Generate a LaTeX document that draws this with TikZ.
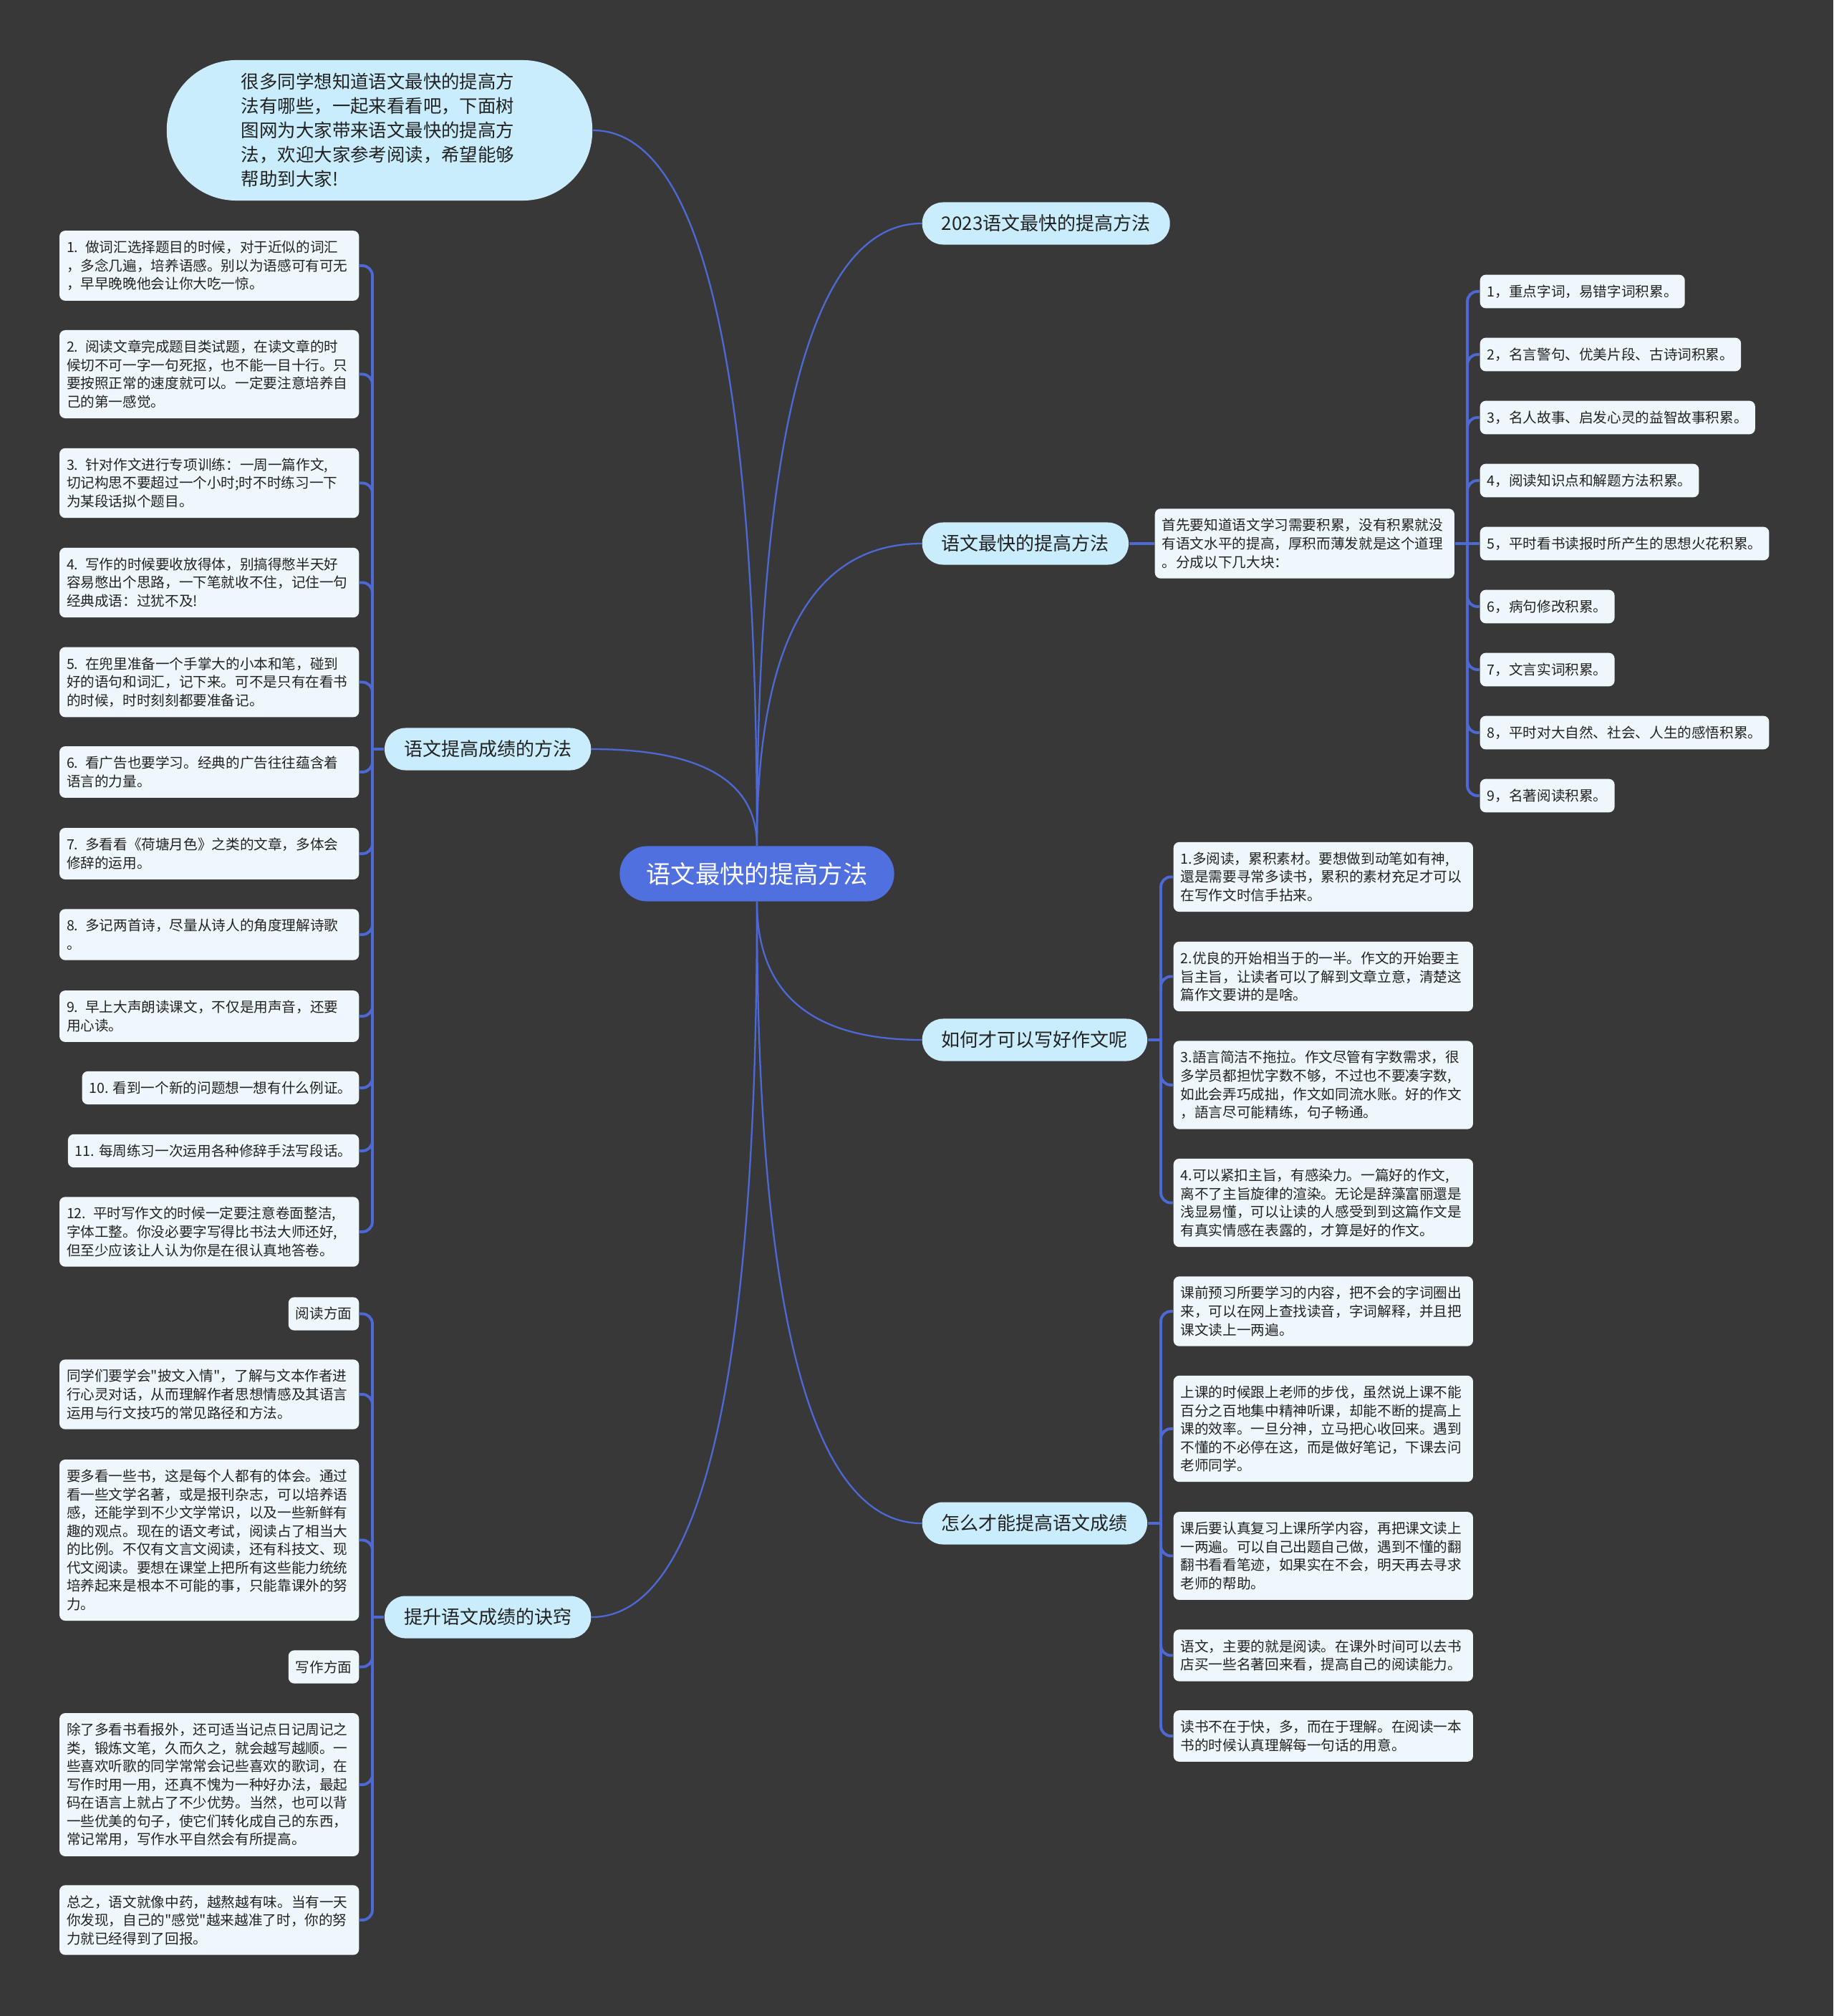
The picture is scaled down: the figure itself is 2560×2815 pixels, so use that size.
\documentclass[tikz,border=0pt]{standalone}
\usepackage{fontspec}
\setmainfont{Noto Sans CJK SC}[Ligatures=TeXOff]
\usepackage{xcolor}
\definecolor{bgdark}{HTML}{393839}
\definecolor{hubblue}{HTML}{5070E0}
\definecolor{pillblue}{HTML}{C9EDFC}
\definecolor{leafbg}{HTML}{EEF8FC}
\definecolor{linkblue}{HTML}{4D69D6}
\definecolor{ink}{HTML}{222222}
\usepackage{tikz}
\usetikzlibrary{calc}
\newcommand\leaffont{\fontsize{5.58}{7.26}\selectfont}
\tikzset{
  hub/.style    ={fill=hubblue,text=white,rounded corners=0.38cm,
                  font=\fontsize{9.76}{11}\selectfont,
                  minimum width=3.83cm,minimum height=0.77cm},
  pill/.style   ={fill=pillblue,text=ink,rounded corners=0.29cm,
                  font=\fontsize{7.4}{9}\selectfont,
                  minimum height=0.59cm,inner xsep=0.27cm},
  bubble/.style ={fill=pillblue,text=ink,rounded corners=0.97cm,
                  font=\fontsize{7.23}{9.67}\selectfont,align=left,
                  text width=3.86cm,minimum width=5.94cm,minimum height=1.96cm},
  leaf/.style   ={fill=leafbg,text=ink,rounded corners=0.08cm,
                  font=\leaffont,align=left,inner xsep=0.1cm,inner ysep=0.14cm},
  para/.style   ={leaf,text width=3.98cm},
  trunk/.style  ={draw=linkblue,line width=0.65pt,
                  to path={.. controls ($(\tikztostart)!0.667!(\tikztostart|-\tikztotarget)$)
                  and ($(\tikztotarget)!0.667!(\tikztostart|-\tikztotarget)$) .. (\tikztotarget)}},
  brace/.style  ={draw=linkblue,line width=1.1pt,rounded corners=0.14cm},
}

\begin{document}
\begin{tikzpicture}[x=0.01cm,y=-0.01cm]
% background
\fill[bgdark] (0,0) rectangle (2560,2815);
% centre and main branches
\node[hub] (hub) at (1057,1220) {语文最快的提高方法};
\node[bubble] (intro) at (530,182)
  {很多同学想知道语文最快的提高方\\法有哪些，一起来看看吧，下面树\\图网为大家带来语文最快的提高方\\法，欢迎大家参考阅读，希望能够\\帮助到大家!};
\node[pill,anchor=west] (bdate)   at (1287,312)  {2023语文最快的提高方法};
\node[pill,anchor=west] (bfast)   at (1287,759)  {语文最快的提高方法};
\node[pill,anchor=west] (bessay)  at (1287,1452) {如何才可以写好作文呢};
\node[pill,anchor=west] (bscore)  at (1287,2127) {怎么才能提高语文成绩};
\node[pill,anchor=east] (bmethod) at (826,1046)  {语文提高成绩的方法};
\node[pill,anchor=east] (btrick)  at (826,2258)  {提升语文成绩的诀窍};
\draw[trunk] (hub.north) to (intro.east);
\draw[trunk] (hub.north) to (bdate.west);
\draw[trunk] (hub.north) to (bfast.west);
\draw[trunk] (hub.north) to (bmethod.east);
\draw[trunk] (hub.south) to (bessay.west);
\draw[trunk] (hub.south) to (bscore.west);
\draw[trunk] (hub.south) to (btrick.east);

% accumulation list
\node[para,anchor=west] (f0) at (1612,759)
  {首先要知道语文学习需要积累，没有积累就没\\有语文水平的提高，厚积而薄发就是这个道理\\。分成以下几大块：};
\foreach \i/\txt in {1/{1，重点字词，易错字词积累。},
                     2/{2，名言警句、优美片段、古诗词积累。},
                     3/{3，名人故事、启发心灵的益智故事积累。},
                     4/{4，阅读知识点和解题方法积累。},
                     5/{5，平时看书读报时所产生的思想火花积累。},
                     6/{6，病句修改积累。},
                     7/{7，文言实词积累。},
                     8/{8，平时对大自然、社会、人生的感悟积累。},
                     9/{9，名著阅读积累。}}
  {\node[leaf,anchor=west] (f\i) at (2066,{407+88*(\i-1)}) {\txt};}
\coordinate (jf) at (2049,759);
\draw[brace] (bfast.east) -- (f0.west);
\draw[brace] (f0.east) -- (jf) -- (f5.west);
\foreach \i in {1,2,3,4,6,7,8,9}
  {\draw[brace] (jf) |- (f\i.west);}

% essay tips
\node[para,anchor=west] (e1) at (1638,1224.5)
  {1.多阅读，累积素材。要想做到动笔如有神,\\還是需要寻常多读书，累积的素材充足才可以\\在写作文时信手拈来。};
\node[para,anchor=west] (e2) at (1638,1363.5)
  {2.优良的开始相当于的一半。作文的开始要主\\旨主旨，让读者可以了解到文章立意，清楚这\\篇作文要讲的是啥。};
\node[para,anchor=west] (e3) at (1638,1515)
  {3.語言简洁不拖拉。作文尽管有字数需求，很\\多学员都担忧字数不够，不过也不要凑字数,\\如此会弄巧成拙，作文如同流水账。好的作文\\，語言尽可能精练，句子畅通。};
\node[para,anchor=west] (e4) at (1638,1679.5)
  {4.可以紧扣主旨，有感染力。一篇好的作文,\\离不了主旨旋律的渲染。无论是辞藻富丽還是\\浅显易懂，可以让读的人感受到到这篇作文是\\有真实情感在表露的，才算是好的作文。};
\coordinate (je) at (1621,1452);
\draw[brace] (bessay.east) -- (je);
\foreach \i in {1,...,4}
  {\draw[brace] (je) |- (e\i.west);}

% score tips
\node[para,anchor=west] (s1) at (1638,1831)
  {课前预习所要学习的内容，把不会的字词圈出\\来，可以在网上查找读音，字词解释，并且把\\课文读上一两遍。};
\node[para,anchor=west] (s2) at (1638,1995)
  {上课的时候跟上老师的步伐，虽然说上课不能\\百分之百地集中精神听课，却能不断的提高上\\课的效率。一旦分神，立马把心收回来。遇到\\不懂的不必停在这，而是做好笔记，下课去问\\老师同学。};
\node[para,anchor=west] (s3) at (1638,2172.5)
  {课后要认真复习上课所学内容，再把课文读上\\一两遍。可以自己出题自己做，遇到不懂的翻\\翻书看看笔迹，如果实在不会，明天再去寻求\\老师的帮助。};
\node[para,anchor=west] (s4) at (1638,2311.5)
  {语文，主要的就是阅读。在课外时间可以去书\\店买一些名著回来看，提高自己的阅读能力。};
\node[para,anchor=west] (s5) at (1638,2424)
  {读书不在于快，多，而在于理解。在阅读一本\\书的时候认真理解每一句话的用意。};
\coordinate (js) at (1621,2127);
\draw[brace] (bscore.east) -- (js);
\foreach \i in {1,...,5}
  {\draw[brace] (js) |- (s\i.west);}

% method list
\node[para,anchor=east] (m1) at (502,371)
  {1. 做词汇选择题目的时候，对于近似的词汇\\，多念几遍，培养语感。别以为语感可有可无\\，早早晚晚他会让你大吃一惊。};
\node[para,anchor=east] (m2) at (502,522.5)
  {2. 阅读文章完成题目类试题，在读文章的时\\候切不可一字一句死抠，也不能一目十行。只\\要按照正常的速度就可以。一定要注意培养自\\己的第一感觉。};
\node[para,anchor=east] (m3) at (502,674.5)
  {3. 针对作文进行专项训练：一周一篇作文,\\切记构思不要超过一个小时;时不时练习一下\\为某段话拟个题目。};
\node[para,anchor=east] (m4) at (502,813.5)
  {4. 写作的时候要收放得体，别搞得憋半天好\\容易憋出个思路，一下笔就收不住，记住一句\\经典成语：过犹不及!};
\node[para,anchor=east] (m5) at (502,952.5)
  {5. 在兜里准备一个手掌大的小本和笔，碰到\\好的语句和词汇，记下来。可不是只有在看书\\的时候，时时刻刻都要准备记。};
\node[para,anchor=east] (m6) at (502,1078)
  {6. 看广告也要学习。经典的广告往往蕴含着\\语言的力量。};
\node[para,anchor=east] (m7) at (502,1192)
  {7. 多看看《荷塘月色》之类的文章，多体会\\修辞的运用。};
\node[para,anchor=east] (m8) at (502,1305)
  {8. 多记两首诗，尽量从诗人的角度理解诗歌\\。};
\node[para,anchor=east] (m9) at (502,1419)
  {9. 早上大声朗读课文，不仅是用声音，还要\\用心读。};
\node[leaf,anchor=east] (m10) at (502,1519) {10. 看到一个新的问题想一想有什么例证。};
\node[leaf,anchor=east] (m11) at (502,1607) {11. 每周练习一次运用各种修辞手法写段话。};
\node[para,anchor=east] (m12) at (502,1720)
  {12. 平时写作文的时候一定要注意卷面整洁,\\字体工整。你没必要字写得比书法大师还好,\\但至少应该让人认为你是在很认真地答卷。};
\coordinate (jm) at (520,1046);
\draw[brace] (bmethod.west) -- (jm);
\foreach \i in {1,...,12}
  {\draw[brace] (jm) |- (m\i.east);}

% trick list
\node[leaf,anchor=east] (t1) at (502,1834.5) {阅读方面};
\node[para,anchor=east] (t2) at (502,1947)
  {同学们要学会"披文入情"，了解与文本作者进\\行心灵对话，从而理解作者思想情感及其语言\\运用与行文技巧的常见路径和方法。};
\node[para,anchor=east] (t3) at (502,2150.5)
  {要多看一些书，这是每个人都有的体会。通过\\看一些文学名著，或是报刊杂志，可以培养语\\感，还能学到不少文学常识，以及一些新鲜有\\趣的观点。现在的语文考试，阅读占了相当大\\的比例。不仅有文言文阅读，还有科技文、现\\代文阅读。要想在课堂上把所有这些能力统统\\培养起来是根本不可能的事，只能靠课外的努\\力。};
\node[leaf,anchor=east] (t4) at (502,2327.5) {写作方面};
\node[para,anchor=east] (t5) at (502,2492)
  {除了多看书看报外，还可适当记点日记周记之\\类，锻炼文笔，久而久之，就会越写越顺。一\\些喜欢听歌的同学常常会记些喜欢的歌词，在\\写作时用一用，还真不愧为一种好办法，最起\\码在语言上就占了不少优势。当然，也可以背\\一些优美的句子，使它们转化成自己的东西，\\常记常用，写作水平自然会有所提高。};
\node[para,anchor=east] (t6) at (502,2681)
  {总之，语文就像中药，越熬越有味。当有一天\\你发现，自己的"感觉"越来越准了时，你的努\\力就已经得到了回报。};
\coordinate (jt) at (520,2258);
\draw[brace] (btrick.west) -- (jt);
\foreach \i in {1,...,6}
  {\draw[brace] (jt) |- (t\i.east);}
\end{tikzpicture}
\end{document}
